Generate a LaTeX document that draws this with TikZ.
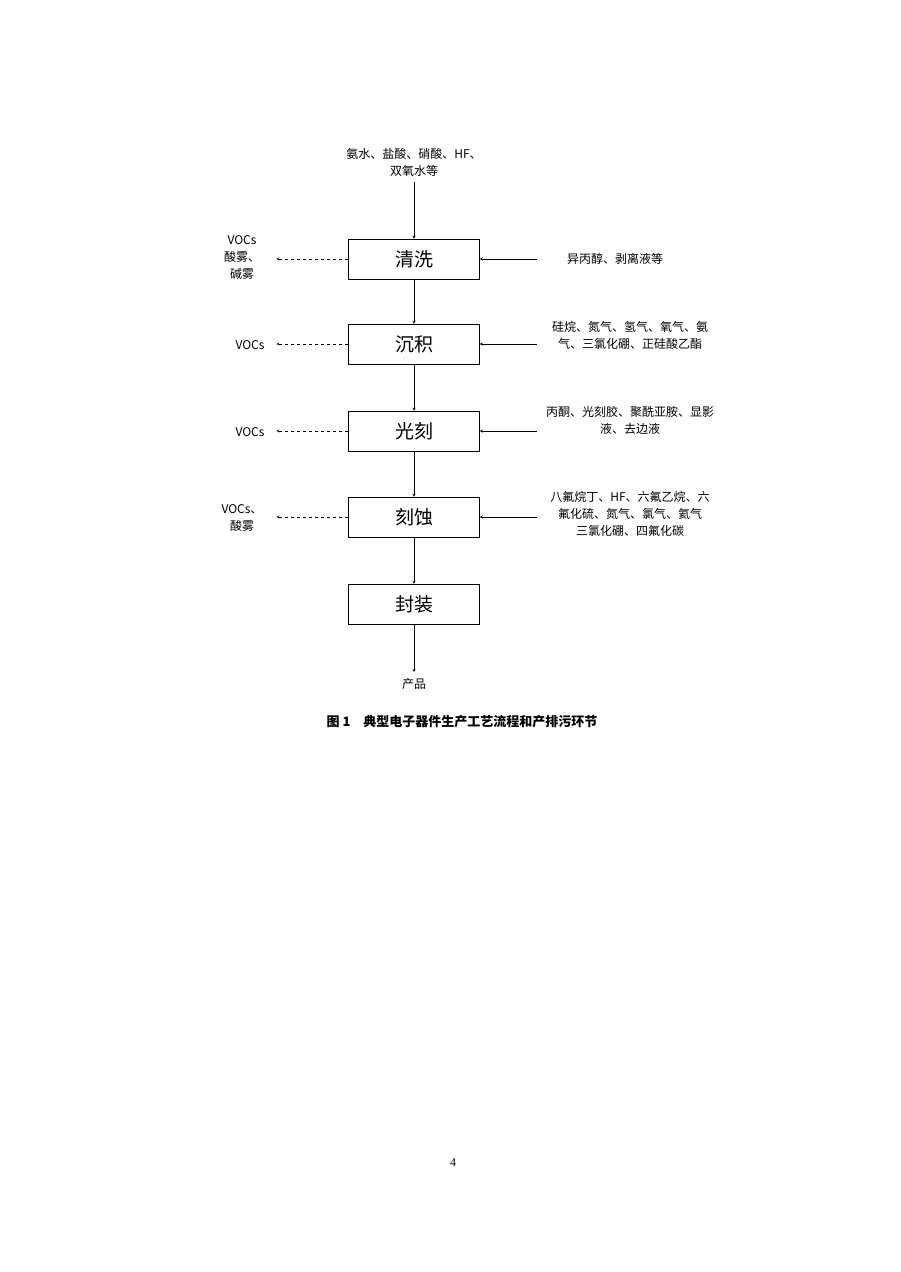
\documentclass[tikz,border=0pt]{standalone}
\usepackage{fontspec}
\setmainfont{Liberation Serif}
\newfontfamily\cjk{Noto Sans CJK SC}
\usetikzlibrary{positioning,calc}
\tikzset{proc/.style={rectangle,draw,minimum width=131pt,minimum height=40pt,font=\cjk\fontsize{19}{22}\selectfont}}
\tikzset{t/.style={align=center,inner sep=0pt,font=\cjk\fontsize{12}{17}\selectfont}}

\begin{document}
\begin{tikzpicture}[x=1pt,y=-1pt,>=stealth]
  \useasboundingbox (0,0) rectangle (900,1272);
  \node[proc] (P1) at (414,259) {清洗};
  \node[proc] (P2) at (414,344) {沉积};
  \node[proc] (P3) at (414,431) {光刻};
  \node[proc] (P4) at (414,517) {刻蚀};
  \node[proc] (P5) at (414,604) {封装};
  \node[t] (In) at (414,162) {氨水、盐酸、硝酸、HF、\\双氧水等};
  \node[t] (Out) at (414,684) {产品};
  \node[t] (R1) at (615,259) {异丙醇、剥离液等};
  \node[t] (R2) at (630,335) {硅烷、氮气、氢气、氧气、氨\\气、三氯化硼、正硅酸乙酯};
  \node[t] (R3) at (630,420) {丙酮、光刻胶、聚酰亚胺、显影\\液、去边液};
  \node[t] (R4) at (630,514) {八氟烷丁、HF、六氟乙烷、六\\氟化硫、氮气、氯气、氦气\\三氯化硼、四氟化碳};
  \node[t] (L1) at (242,258) {VOCs\\酸雾、\\碱雾};
  \node[t] (L2) at (250,345) {VOCs};
  \node[t] (L3) at (250,432) {VOCs};
  \node[t] (L4) at (242,518) {VOCs、\\酸雾};
  \coordinate (In1) at (414,182);
  \coordinate (Out1) at (414,672);
  \foreach \i in {1,...,4}
    {\coordinate (A\i) at ($(P\i.east)+(57,0)$);
     \coordinate (B\i) at ($(P\i.west)+(-72,0)$);}
  \draw[->] (In1) -- (P1);
  \foreach \a/\b in {P1/P2,P2/P3,P3/P4,P4/P5}
    \draw[->] (\a) -- (\b);
  \draw[->] (P5) -- (Out1);
  \foreach \i in {1,...,4}
    {\draw[->] (A\i) -- (P\i.east);
     \draw[->,dashed] (P\i.west) -- (B\i);}
  \node[font=\cjk\bfseries\fontsize{13}{16}\selectfont,inner sep=0pt] (Cap) at (462,722) {图 1\quad 典型电子器件生产工艺流程和产排污环节};
  \node[inner sep=0pt,font=\fontsize{12}{14}\selectfont] (Pg) at (453,1163) {4};
\end{tikzpicture}
\end{document}
